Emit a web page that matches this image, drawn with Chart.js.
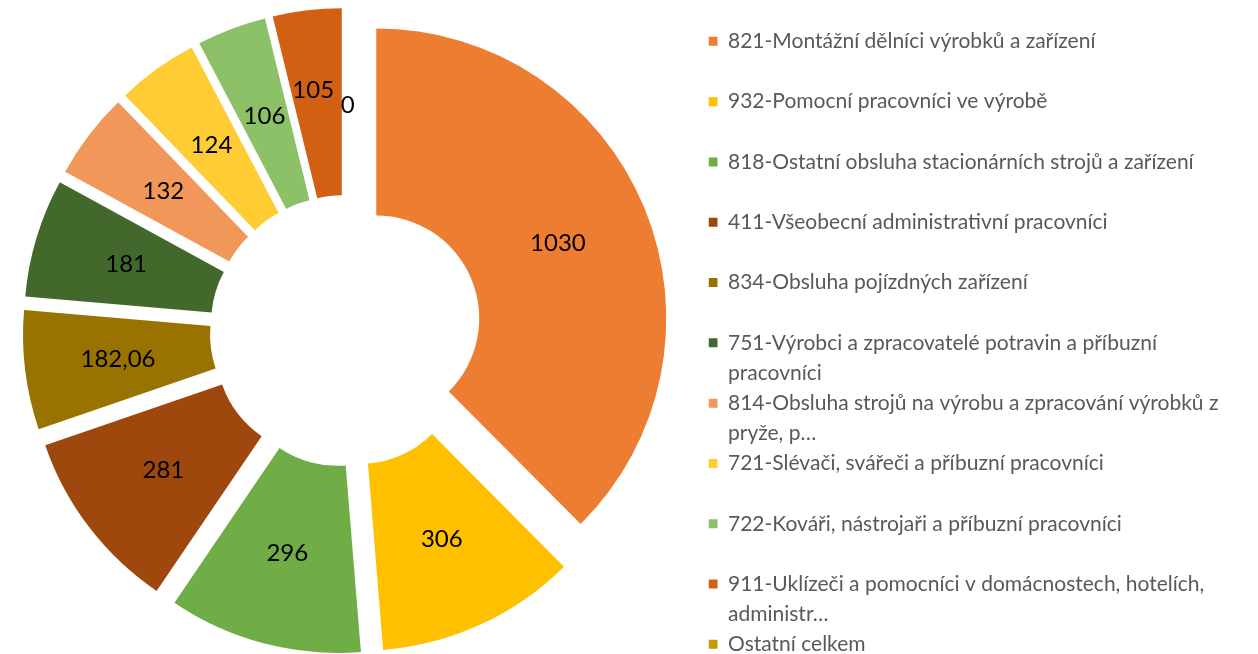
<!DOCTYPE html>
<html lang="cs">
<head>
<meta charset="utf-8">
<script src="https://cdn.jsdelivr.net/npm/chart.js@4.4.1/dist/chart.umd.min.js"></script>
<style>
  html, body { margin: 0; padding: 0; background: #fff; overflow: hidden; }
  /* the canvas hangs a little past the top-left corner so the ring sits where it should */
  #wrap { position: absolute; left: -17px; top: -12px; width: 1275px; height: 676px; }
</style>
</head>
<body>
<div id="wrap"><canvas id="occupationChart"></canvas></div>
<script>
// Occupation groups (a "\n" marks where the legend wraps the name)
const categories = [
    "821-Montážní dělníci výrobků a zařízení",
    "932-Pomocní pracovníci ve výrobě",
    "818-Ostatní obsluha stacionárních strojů a zařízení",
    "411-Všeobecní administrativní pracovníci",
    "834-Obsluha pojízdných zařízení",
    "751-Výrobci a zpracovatelé potravin a příbuzní\npracovníci",
    "814-Obsluha strojů na výrobu a zpracování výrobků z\npryže, p…",
    "721-Slévači, svářeči a příbuzní pracovníci",
    "722-Kováři, nástrojaři a příbuzní pracovníci",
    "911-Uklízeči a pomocníci v domácnostech, hotelích,\nadministr…",
    "Ostatní celkem"
];
const counts = [1030, 306, 296, 281, 182.06, 181, 132, 124, 106, 105, 0];
const sliceColors = [
    "#ED7D31", "#FFC000", "#70AD47", "#9E480E", "#997300", "#43682B",
    "#F1975A", "#FFCD33", "#8CC168", "#D26012", "#C99A06"
];

const FONT = "Lato";
const CANVAS_W = 1275;
const LEGEND_SIZE = 21;
const LEGEND_BOX = 9;
const LEGEND_LEFT = 725.5;   // canvas x where the legend boxes start
const EXPLODE = 33;          // how far each slice is pulled out, px
// small shifts for the two crowded labels at the top
const labelNudge = { 9: [-5, -13], 10: [2, 4] };

// legend entries: one empty line after single-line names keeps rows evenly spaced
const legendText = categories.map((name, i) => {
    const lines = name.split("\n");
    if (lines.length === 1 && i < categories.length - 1) lines.push("");
    return lines;
});

// work out right padding so the legend starts at LEGEND_LEFT
const measureCtx = document.createElement("canvas").getContext("2d");
measureCtx.font = `${LEGEND_SIZE}px ${FONT}`;
const widest = Math.max(...legendText.map(lines => {
    const longest = lines.reduce((a, b) => a.length > b.length ? a : b);
    return measureCtx.measureText(longest).width;
}));
const legendWidth = LEGEND_BOX + LEGEND_SIZE / 2 + widest + 10;
const rightPad = CANVAS_W - LEGEND_LEFT - legendWidth;

const formatValue = v => String(v).replace(".", ",");

// pulls every slice outward along its middle angle
const explodePlugin = {
    id: "explodeSlices",
    beforeDatasetDraw(chart, args) {
        const ctx = chart.ctx;
        args.meta.data.forEach(arc => {
            const mid = (arc.startAngle + arc.endAngle) / 2;
            ctx.save();
            ctx.translate(Math.cos(mid) * EXPLODE, Math.sin(mid) * EXPLODE);
            arc.draw(ctx);
            ctx.restore();
        });
        return false;
    }
};

// value labels in the middle of each slice
const valueLabelPlugin = {
    id: "valueLabels",
    afterDatasetsDraw(chart) {
        const ctx = chart.ctx;
        const meta = chart.getDatasetMeta(0);
        const values = chart.data.datasets[0].data;
        ctx.save();
        ctx.font = `24px ${FONT}`;
        ctx.fillStyle = "#000";
        ctx.textAlign = "center";
        ctx.textBaseline = "middle";
        meta.data.forEach((arc, i) => {
            const mid = (arc.startAngle + arc.endAngle) / 2;
            const p = arc.getCenterPoint();
            const [dx, dy] = labelNudge[i] || [0, 0];
            ctx.fillText(formatValue(values[i]),
                p.x + Math.cos(mid) * EXPLODE + dx,
                p.y + Math.sin(mid) * EXPLODE + dy);
        });
        ctx.restore();
    }
};

new Chart(document.getElementById("occupationChart"), {
    type: "doughnut",
    data: {
        labels: categories,
        datasets: [{
            data: counts,
            backgroundColor: sliceColors,
            borderWidth: 0,
            radius: 290,
            cutout: "35.5%"
        }]
    },
    plugins: [explodePlugin, valueLabelPlugin],
    options: {
        responsive: true,
        maintainAspectRatio: false,
        animation: false,
        events: [],
        layout: {
            padding: { left: 0, right: rightPad, top: 10, bottom: 0 }
        },
        plugins: {
            tooltip: { enabled: false },
            legend: {
                position: "right",
                align: "end",
                labels: {
                    boxWidth: LEGEND_BOX,
                    boxHeight: LEGEND_BOX,
                    padding: 0,
                    color: "#595959",
                    font: { family: FONT, size: LEGEND_SIZE, lineHeight: "30.15px" },
                    generateLabels: chart => chart.data.labels.map((name, i) => ({
                        text: legendText[i],
                        fillStyle: sliceColors[i],
                        strokeStyle: sliceColors[i],
                        lineWidth: 0,
                        fontColor: "#595959",
                        hidden: false,
                        index: i
                    }))
                }
            }
        }
    }
});
</script>
</body>
</html>
